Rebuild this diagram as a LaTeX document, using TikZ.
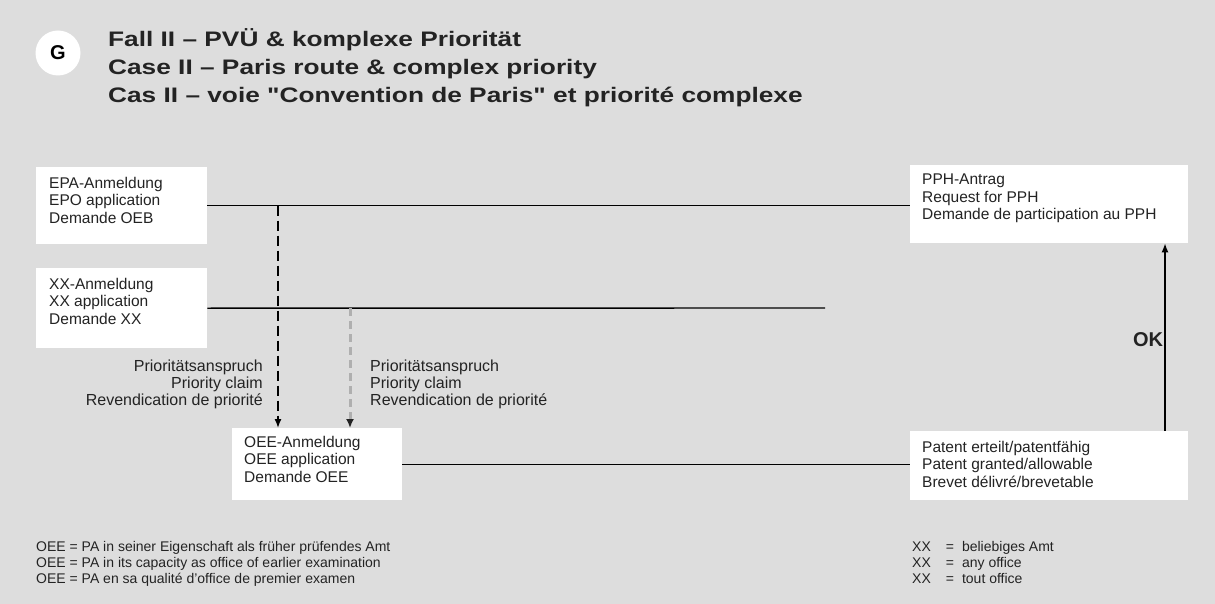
\documentclass[tikz,border=0pt]{standalone}
\usepackage{fontspec}
\setmainfont{Liberation Sans}
\newfontfamily\headfont[FakeStretch=1.25]{Liberation Sans}
\usetikzlibrary{positioning,arrows.meta}
\definecolor{bggray}{RGB}{221,221,221}
\definecolor{txtgray}{RGB}{35,35,35}
\definecolor{claimgray}{RGB}{175,175,175}

\begin{document}
\begin{tikzpicture}[x=1pt, y=-1pt,
  block/.style={fill=white, inner sep=0pt, anchor=north west},
  boxtext/.style={font=\fontsize{15.5}{17.5}\selectfont, align=left, inner sep=0pt, text=txtgray},
  title/.style={font=\headfont\bfseries\fontsize{21}{27}\selectfont, anchor=base west, inner sep=0pt, text=txtgray},
  note/.style={font=\fontsize{14}{16}\selectfont, align=left, inner sep=0pt, text=txtgray},
  flow/.style={line width=1.4pt},
  claim/.style={line width=1.4pt, dash pattern=on 10pt off 5pt, -{Latex[length=9pt,width=7pt]}}]

  \useasboundingbox[fill=bggray] (0,0) rectangle (1215,604);

  % Header
  \node[circle, fill=white, minimum size=45pt, inner sep=0pt, font=\bfseries\fontsize{20}{20}\selectfont] (G) at (58,53) {G};
  \node[title] (T1) at (108,47) {Fall II – PVÜ \& komplexe Priorität};
  \node[title] (T2) at (108,75) {Case II – Paris route \& complex priority};
  \node[title] (T3) at (108,103) {Cas II – voie \symbol{34}Convention de Paris\symbol{34} et priorité complexe};

  % Boxes
  \node[block, minimum width=171pt, minimum height=77pt] (EPA) at (36,167) {};
  \node[block, minimum width=171pt, minimum height=80pt] (XX) at (36,268) {};
  \node[block, minimum width=278pt, minimum height=78pt] (PPH) at (910,165) {};
  \node[block, minimum width=170pt, minimum height=72pt] (OEE) at (232,428) {};
  \node[block, minimum width=278pt, minimum height=69pt] (GRANT) at (910,431) {};

  % Box texts
  \node[boxtext, below right=10pt and 13pt of EPA.north west] (EPAtxt) {EPA-Anmeldung\\EPO application\\Demande OEB};
  \node[boxtext, below right=10pt and 13pt of XX.north west] (XXtxt) {XX-Anmeldung\\XX application\\Demande XX};
  \node[boxtext, below right=9pt and 12pt of PPH.north west] (PPHtxt) {PPH-Antrag\\Request for PPH\\Demande de participation au PPH};
  \node[boxtext, below right=8pt and 12pt of OEE.north west] (OEEtxt) {OEE-Anmeldung\\OEE application\\Demande OEE};
  \node[boxtext, below right=10pt and 12pt of GRANT.north west] (GRANTtxt) {Patent erteilt/patentfähig\\Patent granted/allowable\\Brevet délivré/brevetable};

  % Horizontal lines
  \coordinate (XXend) at (825,308);
  \draw[flow] (EPA.east) -- (EPA.east -| PPH.west);
  \draw[flow] (XX.east) -- (XXend);
  \draw[flow] (OEE.east) -- (OEE.east -| GRANT.west);

  % Priority claims
  \coordinate (C1) at (278,0);
  \coordinate (C2) at (350,0);
  \draw[claim] (EPA.east -| C1) -- (OEE.north -| C1);
  \draw[claim, line width=3pt, claimgray, dash pattern=on 8pt off 5pt, -{Latex[length=9pt,width=8pt,color=txtgray]}] (XX.east -| C2) -- (OEE.north -| C2);
  \node[note, font=\fontsize{16}{17}\selectfont, align=right, anchor=north east] (P1) at (263,360) {Prioritätsanspruch\\Priority claim\\Revendication de priorité};
  \node[note, font=\fontsize{16}{17}\selectfont, anchor=north west] (P2) at (370,360) {Prioritätsanspruch\\Priority claim\\Revendication de priorité};

  % OK arrow
  \coordinate (C3) at (1165,0);
  \draw[flow, -{Latex[length=9pt,width=7pt]}] (GRANT.north -| C3) -- (PPH.south -| C3);
  \node[font=\bfseries\fontsize{20}{20}\selectfont, text=txtgray] (OK) at (1148,340) {OK};

  % Footnotes
  \node[note, anchor=north west] (N1) at (36,541) {OEE = PA in seiner Eigenschaft als früher prüfendes Amt\\OEE = PA in its capacity as office of earlier examination\\OEE = PA en sa qualité d'office de premier examen};
  \node[note, anchor=north west] (N2) at (912,541) {XX\hspace{15pt}=\hspace{8pt}beliebiges Amt\\XX\hspace{15pt}=\hspace{8pt}any office\\XX\hspace{15pt}=\hspace{8pt}tout office};

\end{tikzpicture}
\end{document}
